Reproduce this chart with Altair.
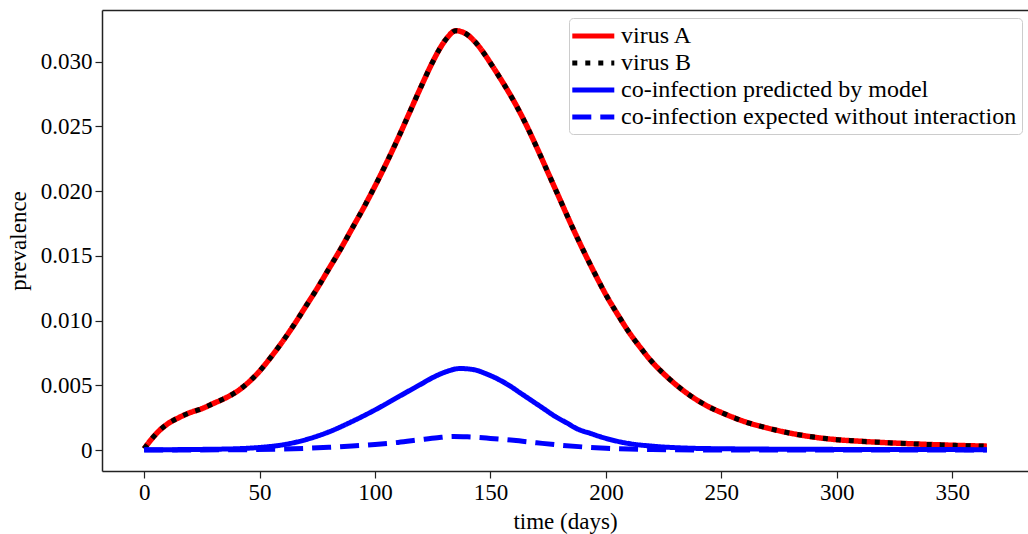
import altair as alt
import pandas as pd

# ---- data ----
days_A = [0, 3, 6, 10, 15, 20, 25, 30, 35, 40, 45, 50, 55, 60, 65, 70, 75, 80, 85, 90, 95,
          100, 105, 110, 115, 120, 125, 128, 131, 135, 139, 143, 147, 150, 155, 160, 165,
          170, 175, 180, 185, 190, 195, 200, 205, 210, 215, 220, 225, 230, 235, 240, 245,
          250, 260, 270, 280, 290, 300, 310, 320, 330, 340, 350, 365]
virus_A = [0.0001, 0.0008, 0.0014, 0.0020, 0.0025, 0.0029, 0.0032, 0.0036, 0.0040, 0.0045,
           0.0052, 0.0061, 0.0072, 0.0084, 0.0097, 0.0111, 0.0125, 0.0140, 0.0155, 0.0171,
           0.0187, 0.0204, 0.0222, 0.0241, 0.0261, 0.0281, 0.0300, 0.0310, 0.0318, 0.0324,
           0.0322, 0.0316, 0.0307, 0.0299, 0.0285, 0.0270, 0.0253, 0.0234, 0.0214, 0.0194,
           0.0174, 0.0155, 0.0137, 0.0120, 0.0105, 0.0091, 0.0079, 0.0068, 0.0059, 0.0051,
           0.0044, 0.0038, 0.0033, 0.0029, 0.0022, 0.0017, 0.0013, 0.0010, 0.0008, 0.00068,
           0.00058, 0.0005, 0.00043, 0.00037, 0.0003]
virus_B = [0.0001, 0.0008, 0.0014, 0.0020, 0.0025, 0.0029, 0.0032, 0.0036, 0.0040, 0.0045,
           0.0052, 0.0061, 0.0072, 0.0084, 0.0097, 0.0111, 0.0125, 0.0140, 0.0155, 0.0171,
           0.0187, 0.0204, 0.0222, 0.0241, 0.0261, 0.0281, 0.0300, 0.0310, 0.0318, 0.0324,
           0.0322, 0.0316, 0.0307, 0.0299, 0.0285, 0.0270, 0.0253, 0.0234, 0.0214, 0.0194,
           0.0174, 0.0155, 0.0137, 0.0120, 0.0105, 0.0091, 0.0079, 0.0068, 0.0059, 0.0051,
           0.0044, 0.0038, 0.0033, 0.0029, 0.0022, 0.0017, 0.0013, 0.0010, 0.0008, 0.00068,
           0.00058, 0.0005, 0.00043, 0.00037, 0.0003]

days_co = [0, 25, 40, 50, 60, 70, 80, 90, 100, 110, 120, 125, 130, 137, 143, 148, 153, 158,
           163, 168, 173, 178, 183, 188, 193, 200, 210, 220, 235, 250, 300, 365]
co_model = [0.00002, 0.00005, 0.0001, 0.0002, 0.0004, 0.0008, 0.0014, 0.0022, 0.0031, 0.0041,
            0.0051, 0.0056, 0.0060, 0.0063, 0.0062, 0.0059, 0.0055, 0.0050, 0.0044, 0.0038,
            0.0032, 0.0026, 0.0021, 0.0016, 0.0013, 0.0009, 0.0005, 0.0003, 0.00015, 0.0001,
            0.00005, 0.00003]

days_exp = [0, 40, 60, 70, 80, 90, 100, 110, 120, 127, 134, 140, 150, 160, 170, 180, 190,
            200, 210, 220, 240, 365]
co_expected = [0.0, 0.00002, 0.00007, 0.00013, 0.00021, 0.00031, 0.00043, 0.00059, 0.00081,
               0.00095, 0.00105, 0.00102, 0.00090, 0.00075, 0.00056, 0.00038, 0.00024,
               0.00014, 0.00008, 0.00004, 0.00001, 0.0]

series_names = ["virus A", "virus B", "co-infection predicted by model",
                "co-infection expected without interaction"]
series_colors = ["#ff0000", "#000000", "#0000ff", "#0000ff"]
series_dash = [[1, 0], [5, 8], [1, 0], [19, 9]]
x_ticks = [0, 50, 100, 150, 200, 250, 300, 350]
y_ticks = [0, 0.005, 0.010, 0.015, 0.020, 0.025, 0.030]

FONT = "Liberation Serif"
FS = 23

def frame(days, vals, name):
    return pd.DataFrame({"day": days, "value": vals, "series": name})

dfs = [frame(days_A, virus_A, series_names[0]),
       frame(days_A, virus_B, series_names[1]),
       frame(days_co, co_model, series_names[2]),
       frame(days_exp, co_expected, series_names[3])]
widths = [5.5, 5, 5, 5]

x_scale = alt.Scale(domain=[-18.25, 382.8], nice=False, zero=False)
y_scale = alt.Scale(domain=[-0.00162, 0.0340], nice=False, zero=False)
x_axis = alt.Axis(values=x_ticks, title="time (days)", grid=False, orient="bottom")
y_axis = alt.Axis(values=y_ticks, title="prevalence", grid=False,
                  labelExpr="datum.value == 0 ? '0' : format(datum.value, '.3f')")

color = alt.Color("series:N", scale=alt.Scale(domain=series_names, range=series_colors),
                  sort=series_names, title=None)
dash = alt.StrokeDash("series:N", scale=alt.Scale(domain=series_names, range=series_dash),
                      sort=series_names, title=None)

layers = []
for df, w in zip(dfs, widths):
    layers.append(
        alt.Chart(df).mark_line(strokeWidth=w, strokeCap="butt", interpolate="monotone",
                                clip=True).encode(
            x=alt.X("day:Q", scale=x_scale, axis=x_axis),
            y=alt.Y("value:Q", scale=y_scale, axis=y_axis),
            color=color,
            strokeDash=dash,
        )
    )
main = alt.layer(*layers)

# top spine: an extra top axis with only its domain line
top = alt.Chart(dfs[0]).mark_line(opacity=0).encode(
    x=alt.X("day:Q", scale=x_scale,
            axis=alt.Axis(orient="top", labels=False, ticks=False, title=None, grid=False,
                          domain=True, values=x_ticks)),
    y=alt.Y("value:Q", scale=y_scale, axis=y_axis),
)

chart = alt.layer(main, top).resolve_axis(x="independent").properties(
    width=926, height=461,
    autosize=alt.AutoSizeParams(type="none"),
    padding={"left": 102, "top": 10, "right": 0, "bottom": 63},
).configure_view(stroke=None).configure_axis(
    labelFont=FONT, labelFontSize=FS, labelColor="black",
    titleFont=FONT, titleFontSize=FS, titleColor="black", titleFontWeight="normal",
    domainColor="#222222", domainWidth=1.5, tickColor="#222222", tickWidth=1.2,
    tickSize=7, labelPadding=3,
).configure_axisY(titlePadding=10).configure_axisX(titlePadding=6).configure_legend(
    orient="none", legendX=467, legendY=8,
    symbolType="M-1.4,0H2.6", symbolSize=441, symbolStrokeWidth=5,
    labelFont=FONT, labelFontSize=24, labelColor="black", labelOffset=21,
    fillColor="white", strokeColor="#cccccc", cornerRadius=4, padding=5,
    rowPadding=2, labelLimit=600,
)

chart.save("out.html", embed_options={"renderer": "svg", "actions": False})
